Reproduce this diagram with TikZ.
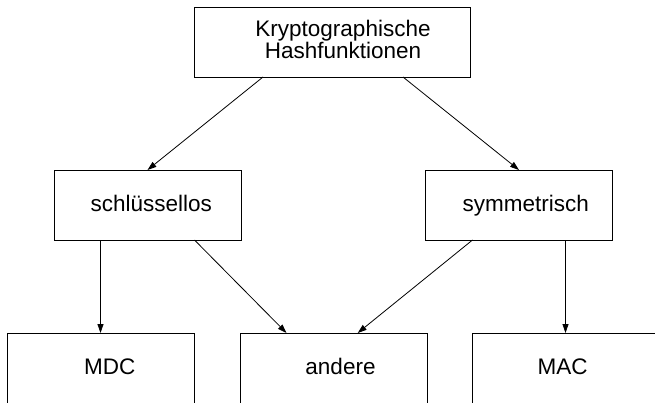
\documentclass[tikz,border=0pt]{standalone}
\usepackage{fontspec}
\setmainfont{Liberation Sans}
\usetikzlibrary{arrows.meta}
\begin{document}
\begin{tikzpicture}[x=1pt,y=-1pt,
  box/.style={draw, line width=0.9pt, minimum height=70pt, minimum width=187pt, inner sep=0pt, outer sep=0pt},
  lbl/.style={font=\fontsize{22.5}{20}\selectfont, inner sep=0pt, anchor=base, align=center},
  conn/.style={line width=0.8pt, -{Triangle[length=9pt,width=6pt]}}]
\useasboundingbox (0,0) rectangle (655,402);
\clip (0,0) rectangle (655,402);
% boxes
\node[box, minimum width=276pt] (top) at (332,42) {};
\node[box] (schl) at (147.5,205) {};
\node[box] (sym) at (519,205) {};
\node[box, minimum height=72pt] (mdc) at (100.5,369) {};
\node[box, minimum height=72pt] (andere) at (334,369) {};
\node[box, minimum height=72pt] (mac) at (565.5,369) {};
% texts
\node[lbl, anchor=center] (ttop) at (343,39.5) {Kryptographische\\Hashfunktionen};
\node[lbl] (tschl) at (151.3,211.7) {schlüssellos};
\node[lbl] (tsym) at (525.7,211.7) {symmetrisch};
\node[lbl] (tmdc) at (109.7,374.3) {MDC};
\node[lbl] (tandere) at (340.5,374.3) {andere};
\node[lbl] (tmac) at (562.5,374.3) {MAC};
% connectors
\draw[conn] ([xshift=-69pt]top.south) -- (schl.north);
\draw[conn] ([xshift=71pt]top.south) -- (sym.north);
\draw[conn] (schl.south -| mdc.north) -- (mdc.north);
\draw[conn] ([xshift=47pt]schl.south) -- ([xshift=-47.5pt]andere.north);
\draw[conn] ([xshift=-46.5pt]sym.south) -- ([xshift=23.7pt]andere.north);
\draw[conn] (sym.south -| mac.north) -- (mac.north);
\end{tikzpicture}
\end{document}
